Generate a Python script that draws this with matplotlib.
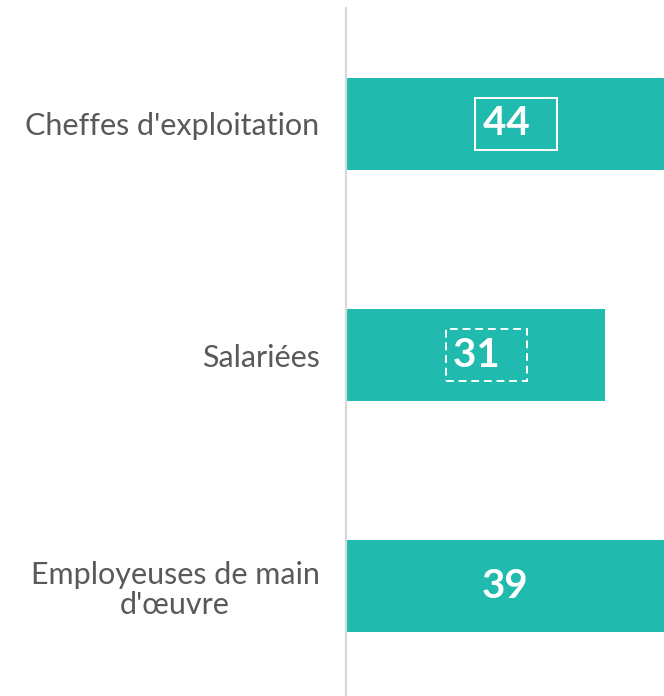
import matplotlib
matplotlib.use("Agg")
import matplotlib.pyplot as plt

# data
categories = ["Cheffes d'exploitation", "Salariées", "Employeuses de main\nd'œuvre"]
values = [44, 31, 39]
label_boxes = ["solid", "dashed", None]

bar_color = "#20BBAE"
text_color = "#595959"
x_max = 38.06

plt.rcParams['font.family'] = ['Lato', 'DejaVu Sans']

fig = plt.figure(figsize=(6.64, 6.96), dpi=100)
ax = fig.add_axes([346 / 664, 0, 1 - 346 / 664, 1 - 8 / 696])

ypos = list(range(len(categories)))
ax.barh(ypos, values, height=0.4, color=bar_color, zorder=2)

ax.set_xlim(0, x_max)
ax.set_ylim(2.476, -0.502)

ax.set_yticks(ypos)
ax.set_yticklabels(categories, fontsize=22, color=text_color)
for t in ax.get_yticklabels():
    t.set_multialignment('center')
    t.set_linespacing(1.12)
ax.tick_params(axis='y', length=0, pad=19)
ax.set_xticks([])

for s in ['top', 'right', 'bottom']:
    ax.spines[s].set_visible(False)
ax.spines['left'].set_color('#d9d9d9')
ax.spines['left'].set_linewidth(1.6)

# value labels, centred on the visible part of each bar
for y, v, box in zip(ypos, values, label_boxes):
    xc = min(v, x_max) / 2
    if box is None:
        ax.text(xc, y, str(v), ha='center', va='center', color='white',
                fontsize=29, fontweight='bold', zorder=3)
        continue
    ax.annotate(str(v) + '\u2002', (xc, y), xytext=(8, 0), textcoords='offset points',
                ha='center', va='center', color='white', fontsize=29,
                fontweight='bold', zorder=3,
                bbox=dict(boxstyle='square,pad=0.18', fc='none', ec='white', lw=1.4,
                          ls='-' if box == 'solid' else (0, (4, 2.5))))

fig.savefig('out.png', dpi=100, facecolor='white')
